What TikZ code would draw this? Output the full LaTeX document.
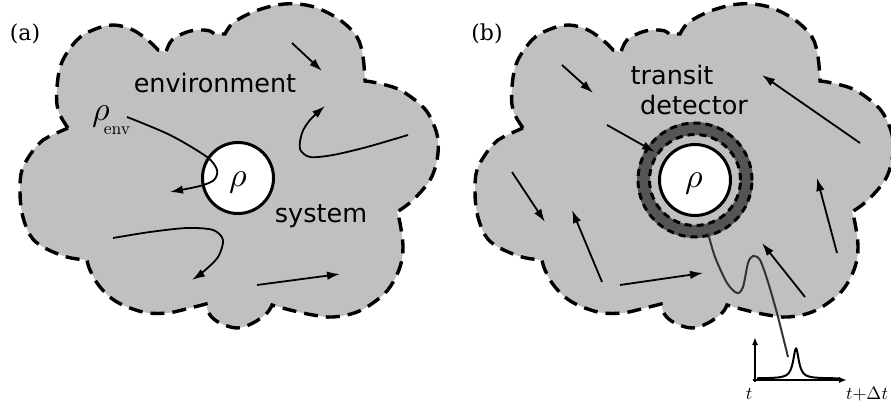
\documentclass[tikz,border=0pt]{standalone}
\usepackage{graphicx}
\usepackage{fontspec}
\newfontfamily\dvsans{DejaVu Sans}
\newfontfamily\dvserif{DejaVu Serif}
\usetikzlibrary{arrows.meta}
\definecolor{cloudgray}{HTML}{C0C0C0}
\definecolor{ringgray}{HTML}{555555}
\definecolor{wiregray}{HTML}{333333}
\newcommand\mycloudpath{%
 plot[smooth,tension=0.6] coordinates {(68,128)(58,110)(57,87)(62,62)(77,40)(93,30)(113,25)(133,30)(150,42)(158,50)}
 -- (166,52)
 -- plot[smooth,tension=0.6] coordinates {(166,52)(172,40)(187,32)(200,30)(210,31)(214,34)}
 -- (225,34)
 -- plot[smooth,tension=0.6] coordinates {(225,34)(233,23)(253,12)(277,5)(297,4)(317,8)(340,20)(357,37)(363,57)(365,81)}
 -- plot[smooth,tension=0.6] coordinates {(365,81)(377,83)(400,90)(423,107)(433,123)(438,140)(437,160)(430,180)(413,200)(397,212)}
 -- plot[smooth,tension=0.6] coordinates {(397,212)(400,223)(403,247)(400,267)(390,287)(377,300)(357,312)(333,317)(313,315)(290,310)(272,305)}
 -- plot[smooth,tension=0.6] coordinates {(272,305)(267,313)(253,323)(237,328)(220,323)(210,315)(206,304)}
 -- plot[smooth,tension=0.6] coordinates {(206,304)(190,308)(167,313)(143,312)(117,302)(100,287)(90,270)(87,260)}
 -- plot[smooth,tension=0.6] coordinates {(87,260)(67,257)(43,247)(30,235)(22,213)(20,190)(22,170)(32,152)(43,140)(50,136)(68,128)}
 -- cycle}
\newcommand\bigrho{\scalebox{3.4}{$\rho$}}
\begin{document}
\begin{tikzpicture}[x=1pt,y=-1pt,
  cloud/.style={fill=cloudgray, draw=black, line width=3.4pt, dash pattern=on 14pt off 8pt},
  flow/.style={line width=1.8pt, -{Latex[length=13pt,width=8.5pt]}},
  sanslbl/.style={font=\dvsans\fontsize{25.5}{28}\selectfont, inner sep=0pt},
  panellbl/.style={font=\dvserif\fontsize{22}{24}\selectfont, inner sep=0pt},
  rholbl/.style={inner sep=0pt},
  sublbl/.style={inner sep=0pt},
  syscircle/.style={circle, draw=black, fill=white, line width=3pt, minimum size=71pt, inner sep=0pt},
  ringdash/.style={draw=black, line width=3pt, dash pattern=on 7pt off 5pt},
  wire/.style={draw=wiregray, line width=2pt},
  axis/.style={line width=1.8pt, -{Latex[length=8pt,width=6pt]}},
  mathlbl/.style={inner sep=0pt}]
\useasboundingbox (0,0) rectangle (891,406);

% ---------- panel (a)
\path[cloud] \mycloudpath;
\node[panellbl] (lbla) at (25,34) {(a)};
\node[sanslbl] (env) at (215,83) {environment};
\node[sanslbl] (sys) at (321,216) {system};
\node[syscircle] (rhoa) at (238,178) {};
\node[rholbl] (rhoatxt) at (238,182) {\bigrho};
\node[rholbl] (rhoenv) at (101,116) {\bigrho};
\node[sublbl] (envsub) at (117,131) {\scalebox{1.75}{env}};
\draw[flow] (292,43) -- (322,71);
\draw[flow] plot[smooth] coordinates {(408,135)(367,147)(333,155)(310,157)(300,149)(302,133)(310,120)(325,106)};
\draw[flow] plot[smooth] coordinates {(127,117)(170,135)(207,157)(217,170)(214,180)(200,186)(170,192)};
\draw[flow] plot[smooth] coordinates {(113,238)(150,232)(187,228)(213,230)(223,240)(218,257)(203,272)(192,280)};
\draw[flow] (257,285) -- (340,274);

% ---------- panel (b)
\begin{scope}[xshift=455pt]
\path[cloud] \mycloudpath;
\end{scope}
\node[panellbl] (lblb) at (487,34) {(b)};
\node[sanslbl] (transit) at (672,75) {transit};
\node[sanslbl] (detector) at (694,105) {detector};
\coordinate (ctr) at (695,180);
\draw[ringgray, line width=13pt] (ctr) circle[radius=51.5pt];
\draw[ringdash] (ctr) circle[radius=45.5pt];
\draw[ringdash] (ctr) circle[radius=57pt];
\node[syscircle] (rhob) at (ctr) {};
\node[rholbl] (rhobtxt) at (694,183) {\bigrho};
\draw[flow] (562,65) -- (593,93);
\draw[flow] (607,125) -- (655,152);
\draw[flow] (860,143) -- (762,75);
\draw[flow] (512,172) -- (545,222);
\draw[flow] (602,282) -- (572,210);
\draw[flow] (620,285) -- (703,273);
\draw[flow] (837,253) -- (817,178);
\draw[flow] (805,297) -- (762,243);
\draw[wire] plot[smooth] coordinates {(708,233)(715,257)(727,283)(737,293)(743,287)(748,263)(753,256)(760,260)(768,282)(778,317)(788,357)};

% inset plot
\coordinate (orig) at (755,380);
\draw[axis] (755,382) -- (755,337);
\draw[axis] (753,380) -- (847,380);
\draw[line width=2pt] plot[domain=757:840,samples=160,smooth] (\x,{378.5-30*12/((\x-796)*(\x-796)+12)});
\node[mathlbl] (tlbl) at (749,394) {\scalebox{1.8}{$t$}};
\node[mathlbl] (tdlbl) at (867,394) {\scalebox{1.8}{$t{+}\Delta t$}};
\end{tikzpicture}
\end{document}
